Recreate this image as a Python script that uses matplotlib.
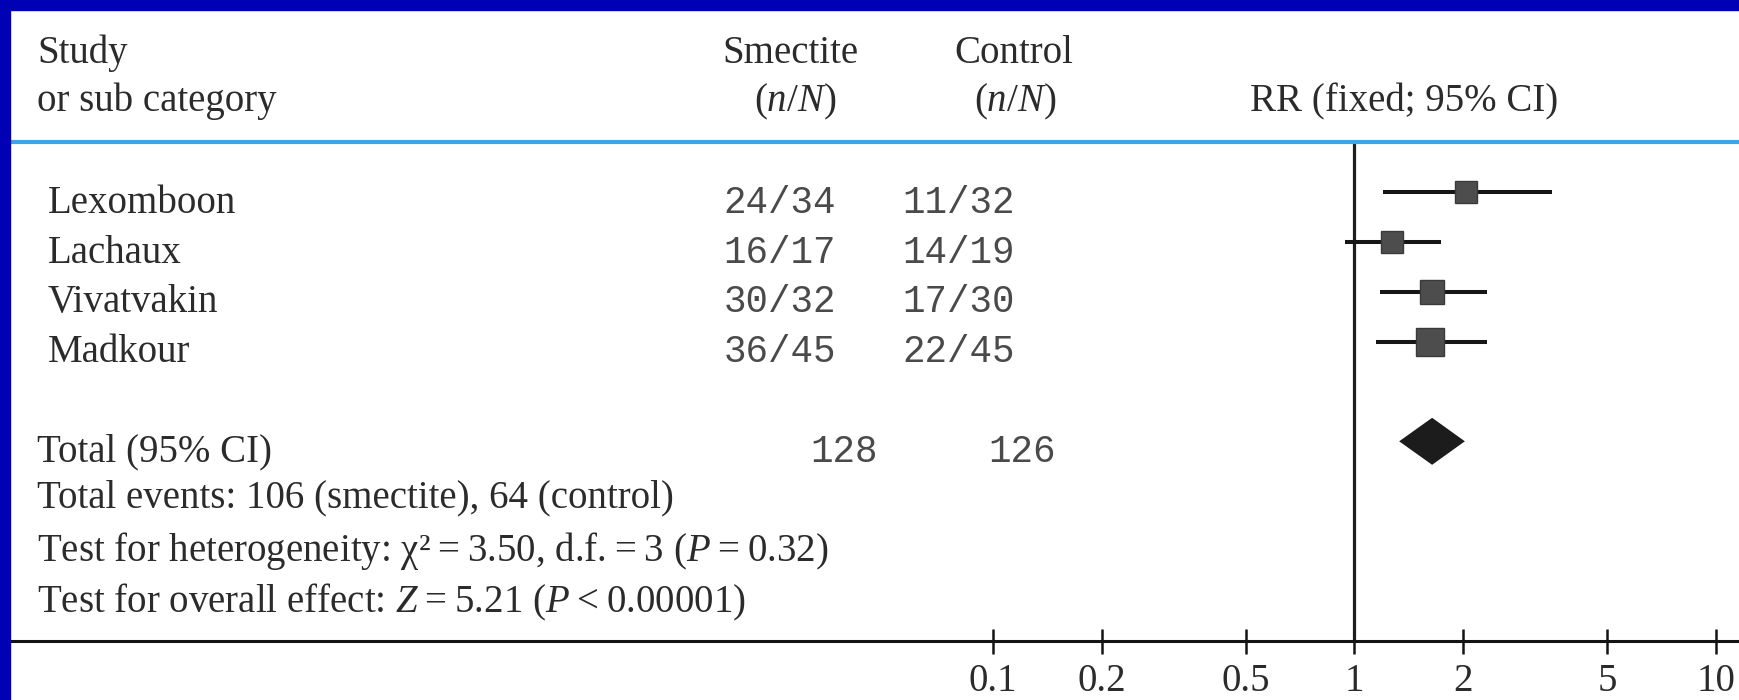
import matplotlib
matplotlib.use("Agg")
import matplotlib.pyplot as plt
import matplotlib.transforms as mtransforms
from matplotlib.patches import Rectangle

# ---------------- data ----------------
studies = ["Lexomboon", "Lachaux", "Vivatvakin", "Madkour"]
smectite_events = ["24/34", "16/17", "30/32", "36/45"]
control_events = ["11/32", "14/19", "17/30", "22/45"]
rr = [2.04, 1.27, 1.64, 1.62]
ci_low = [1.20, 0.94, 1.18, 1.15]
ci_high = [3.52, 1.73, 2.32, 2.32]
total_smectite = "128"
total_control = "126"
total_rr = 1.64
total_low = 1.33
total_high = 2.02
tick_values = [0.1, 0.2, 0.5, 1, 2, 5, 10]
tick_labels = ["0.1", "0.2", "0.5", "1", "2", "5", "10"]
footer_lines = [
    "Total events: 106 (smectite), 64 (control)",
    "Test for heterogeneity: χ²\u2009=\u20093.50, d.f.\u2009=\u20093 ($P$\u2009=\u20090.32)",
    "Test for overall effect: $Z$\u2009=\u20095.21 ($P$\u2009<\u20090.00001)",
]

# ---------------- style ----------------
plt.rcParams["font.family"] = ["Liberation Serif", "DejaVu Serif"]
plt.rcParams["mathtext.fontset"] = "custom"
plt.rcParams["mathtext.rm"] = "Liberation Serif"
plt.rcParams["mathtext.it"] = "Liberation Serif:italic"

W, H = 1740, 700
fig = plt.figure(figsize=(W / 100, H / 100), dpi=100)
fig.patch.set_facecolor("white")

TXT = "#2b2b2b"
NUM = "#4a4a4a"
FS = 28
MONO = "Liberation Mono"

def fx(px):
    return px / W

def fy(py):
    return 1 - py / H

# blue frame (top and left)
BLUE = "#0000b4"
fig.patches.append(Rectangle((0, fy(10)), 1, 10 / H, transform=fig.transFigure,
                             color=BLUE, zorder=0))
fig.patches.append(Rectangle((0, 0), fx(10), 1, transform=fig.transFigure,
                             color=BLUE, zorder=0))

# main axes: from x=10px to right edge, y from blue rule (141.5) to axis (640.7)
top_px, bot_px = 141.5, 640.7
ax = fig.add_axes([fx(10), fy(bot_px), 1 - fx(10), (bot_px - top_px) / H])
ax.set_xscale("log")
# 0.1 -> 992.7 px, 10 -> 1716 px  (361.7 px / decade)
ppd = 361.7
x01 = 992.7
lo = -1 - (x01 - 10) / ppd
hi = -1 + (W - x01) / ppd
ax.set_xlim(10 ** lo, 10 ** hi)
row_px = 49.8
row0_px = 192.3
ax.set_ylim((bot_px - row0_px) / row_px, (top_px - row0_px) / row_px)
ax.set_facecolor("none")

for s in ["left", "right"]:
    ax.spines[s].set_visible(False)
ax.spines["top"].set_color("#3aa6e8")
ax.spines["top"].set_linewidth(3.0)
ax.spines["bottom"].set_color("#141414")
ax.spines["bottom"].set_linewidth(2.2)
ax.set_yticks([])
ax.set_xticks(tick_values)
ax.set_xticklabels(tick_labels)
ax.minorticks_off()
ax.tick_params(axis="x", direction="inout", length=18, width=1.8, color="#141414",
               labelsize=FS, labelcolor=TXT, pad=7)

# line of no effect
ax.axvline(1, color="#1e1e1e", lw=2.3, zorder=2)

# studies
rows = list(range(len(studies)))
sq_sizes = [16, 16.5, 17.5, 19.5]
for i, (r, l, h) in enumerate(zip(rr, ci_low, ci_high)):
    ax.plot([l, h], [rows[i], rows[i]], color="#161616", lw=2.9, zorder=3,
            solid_capstyle="butt")
    ax.plot([r], [rows[i]], marker="s", ms=sq_sizes[i], color="#4d4d4d",
            mec="#3a3a3a", mew=1, zorder=4)

# pooled diamond
total_row = 5
hh = 23.5 / row_px
ax.fill([total_low, total_rr, total_high, total_rr],
        [total_row, total_row - hh, total_row, total_row + hh],
        color="#1c1c1c", zorder=4, lw=0)

# text columns
tr = mtransforms.blended_transform_factory(fig.transFigure, ax.transData)
base_off = 0.41
for i, name in enumerate(studies):
    y = rows[i] + base_off
    ax.text(fx(48), y, name, transform=tr, fontsize=FS, color=TXT, va="baseline", ha="left")
    ax.text(fx(836), y, smectite_events[i], transform=tr, fontsize=27, color=NUM,
            family=MONO, va="baseline", ha="right")
    ax.text(fx(1015), y, control_events[i], transform=tr, fontsize=27, color=NUM,
            family=MONO, va="baseline", ha="right")

yt = total_row + base_off
ax.text(fx(37), yt, "Total (95% CI)", transform=tr, fontsize=FS, color=TXT, va="baseline")
ax.text(fx(878), yt, total_smectite, transform=tr, fontsize=27, color=NUM, family=MONO,
        va="baseline", ha="right")
ax.text(fx(1056), yt, total_control, transform=tr, fontsize=27, color=NUM, family=MONO,
        va="baseline", ha="right")

footer_base = [507, 561, 612]
for line, b in zip(footer_lines, footer_base):
    fig.text(fx(37), fy(b), line, fontsize=FS, color=TXT, va="baseline")

# header
fig.text(fx(37), fy(63), "Study", fontsize=FS, color=TXT, va="baseline")
fig.text(fx(37), fy(111), "or sub category", fontsize=FS, color=TXT, va="baseline")
fig.text(fx(790), fy(63), "Smectite", fontsize=FS, color=TXT, va="baseline", ha="center")
fig.text(fx(795), fy(111), "($n$/$N$)", fontsize=FS, color=TXT, va="baseline", ha="center")
fig.text(fx(1014), fy(63), "Control", fontsize=FS, color=TXT, va="baseline", ha="center")
fig.text(fx(1015), fy(111), "($n$/$N$)", fontsize=FS, color=TXT, va="baseline", ha="center")
fig.text(fx(1404), fy(111), "RR (fixed; 95% CI)", fontsize=FS, color=TXT, va="baseline",
         ha="center")

fig.savefig("out.png", dpi=100, facecolor="white")
